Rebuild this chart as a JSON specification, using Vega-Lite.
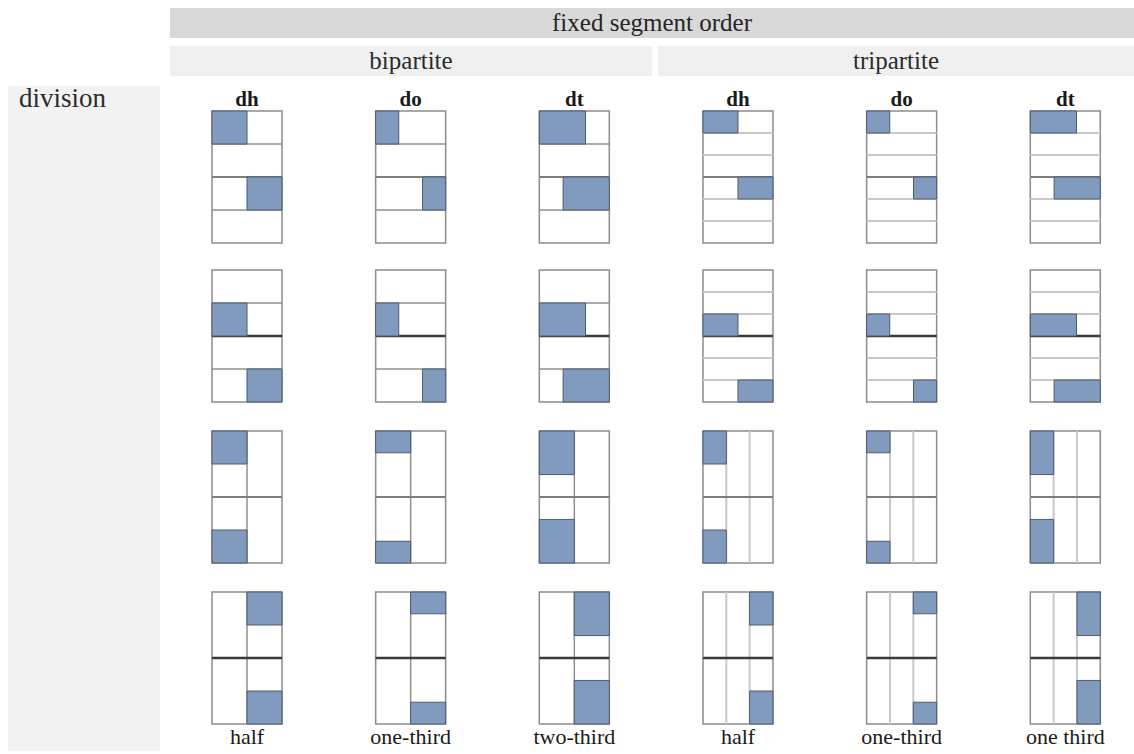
{
  "$schema": "https://vega.github.io/schema/vega-lite/v6.json",
  "padding": {"left": 8, "top": 8, "right": 0, "bottom": 0},
  "background": "white",
  "config": {
    "view": {"stroke": null},
    "font": "Liberation Serif",
    "text": {"font": "Liberation Serif"},
    "title": {"font": "Liberation Serif"},
    "header": {"labelFont": "Liberation Serif", "titleFont": "Liberation Serif"}
  },
  "datasets": {
    "geo": [
      {"c":1,"r":1,"t":"blue","x":0,"x2":0.5,"y":0,"y2":0.25},
      {"c":1,"r":1,"t":"blue","x":0.5,"x2":1,"y":0.5,"y2":0.75},
      {"c":2,"r":1,"t":"blue","x":0,"x2":0.33,"y":0,"y2":0.25},
      {"c":2,"r":1,"t":"blue","x":0.67,"x2":1,"y":0.5,"y2":0.75},
      {"c":3,"r":1,"t":"blue","x":0,"x2":0.66,"y":0,"y2":0.25},
      {"c":3,"r":1,"t":"blue","x":0.34,"x2":1,"y":0.5,"y2":0.75},
      {"c":4,"r":1,"t":"blue","x":0,"x2":0.5,"y":0,"y2":0.1667},
      {"c":4,"r":1,"t":"blue","x":0.5,"x2":1,"y":0.5,"y2":0.6667},
      {"c":5,"r":1,"t":"blue","x":0,"x2":0.33,"y":0,"y2":0.1667},
      {"c":5,"r":1,"t":"blue","x":0.67,"x2":1,"y":0.5,"y2":0.6667},
      {"c":6,"r":1,"t":"blue","x":0,"x2":0.66,"y":0,"y2":0.1667},
      {"c":6,"r":1,"t":"blue","x":0.34,"x2":1,"y":0.5,"y2":0.6667},
      {"c":1,"r":2,"t":"blue","x":0,"x2":0.5,"y":0.25,"y2":0.5},
      {"c":1,"r":2,"t":"blue","x":0.5,"x2":1,"y":0.75,"y2":1},
      {"c":2,"r":2,"t":"blue","x":0,"x2":0.33,"y":0.25,"y2":0.5},
      {"c":2,"r":2,"t":"blue","x":0.67,"x2":1,"y":0.75,"y2":1},
      {"c":3,"r":2,"t":"blue","x":0,"x2":0.66,"y":0.25,"y2":0.5},
      {"c":3,"r":2,"t":"blue","x":0.34,"x2":1,"y":0.75,"y2":1},
      {"c":4,"r":2,"t":"blue","x":0,"x2":0.5,"y":0.3333,"y2":0.5},
      {"c":4,"r":2,"t":"blue","x":0.5,"x2":1,"y":0.8333,"y2":1},
      {"c":5,"r":2,"t":"blue","x":0,"x2":0.33,"y":0.3333,"y2":0.5},
      {"c":5,"r":2,"t":"blue","x":0.67,"x2":1,"y":0.8333,"y2":1},
      {"c":6,"r":2,"t":"blue","x":0,"x2":0.66,"y":0.3333,"y2":0.5},
      {"c":6,"r":2,"t":"blue","x":0.34,"x2":1,"y":0.8333,"y2":1},
      {"c":1,"r":3,"t":"blue","x":0,"x2":0.5,"y":0,"y2":0.25},
      {"c":1,"r":3,"t":"blue","x":0,"x2":0.5,"y":0.75,"y2":1},
      {"c":2,"r":3,"t":"blue","x":0,"x2":0.5,"y":0,"y2":0.165},
      {"c":2,"r":3,"t":"blue","x":0,"x2":0.5,"y":0.835,"y2":1},
      {"c":3,"r":3,"t":"blue","x":0,"x2":0.5,"y":0,"y2":0.33},
      {"c":3,"r":3,"t":"blue","x":0,"x2":0.5,"y":0.67,"y2":1},
      {"c":4,"r":3,"t":"blue","x":0,"x2":0.3333,"y":0,"y2":0.25},
      {"c":4,"r":3,"t":"blue","x":0,"x2":0.3333,"y":0.75,"y2":1},
      {"c":5,"r":3,"t":"blue","x":0,"x2":0.3333,"y":0,"y2":0.165},
      {"c":5,"r":3,"t":"blue","x":0,"x2":0.3333,"y":0.835,"y2":1},
      {"c":6,"r":3,"t":"blue","x":0,"x2":0.3333,"y":0,"y2":0.33},
      {"c":6,"r":3,"t":"blue","x":0,"x2":0.3333,"y":0.67,"y2":1},
      {"c":1,"r":4,"t":"blue","x":0.5,"x2":1,"y":0,"y2":0.25},
      {"c":1,"r":4,"t":"blue","x":0.5,"x2":1,"y":0.75,"y2":1},
      {"c":2,"r":4,"t":"blue","x":0.5,"x2":1,"y":0,"y2":0.165},
      {"c":2,"r":4,"t":"blue","x":0.5,"x2":1,"y":0.835,"y2":1},
      {"c":3,"r":4,"t":"blue","x":0.5,"x2":1,"y":0,"y2":0.33},
      {"c":3,"r":4,"t":"blue","x":0.5,"x2":1,"y":0.67,"y2":1},
      {"c":4,"r":4,"t":"blue","x":0.6667,"x2":1,"y":0,"y2":0.25},
      {"c":4,"r":4,"t":"blue","x":0.6667,"x2":1,"y":0.75,"y2":1},
      {"c":5,"r":4,"t":"blue","x":0.6667,"x2":1,"y":0,"y2":0.165},
      {"c":5,"r":4,"t":"blue","x":0.6667,"x2":1,"y":0.835,"y2":1},
      {"c":6,"r":4,"t":"blue","x":0.6667,"x2":1,"y":0,"y2":0.33},
      {"c":6,"r":4,"t":"blue","x":0.6667,"x2":1,"y":0.67,"y2":1},

      {"c":1,"r":1,"t":"d2","x":0,"x2":1,"y":0.25,"y2":0.25},
      {"c":1,"r":1,"t":"d2","x":0,"x2":1,"y":0.75,"y2":0.75},
      {"c":1,"r":1,"t":"sL","x":0,"x2":1,"y":0.5,"y2":0.5},
      {"c":2,"r":1,"t":"d2","x":0,"x2":1,"y":0.25,"y2":0.25},
      {"c":2,"r":1,"t":"d2","x":0,"x2":1,"y":0.75,"y2":0.75},
      {"c":2,"r":1,"t":"sL","x":0,"x2":1,"y":0.5,"y2":0.5},
      {"c":3,"r":1,"t":"d2","x":0,"x2":1,"y":0.25,"y2":0.25},
      {"c":3,"r":1,"t":"d2","x":0,"x2":1,"y":0.75,"y2":0.75},
      {"c":3,"r":1,"t":"sL","x":0,"x2":1,"y":0.5,"y2":0.5},
      {"c":4,"r":1,"t":"d3","x":0,"x2":1,"y":0.1667,"y2":0.1667},
      {"c":4,"r":1,"t":"d3","x":0,"x2":1,"y":0.3333,"y2":0.3333},
      {"c":4,"r":1,"t":"d3","x":0,"x2":1,"y":0.6667,"y2":0.6667},
      {"c":4,"r":1,"t":"d3","x":0,"x2":1,"y":0.8333,"y2":0.8333},
      {"c":4,"r":1,"t":"sL","x":0,"x2":1,"y":0.5,"y2":0.5},
      {"c":5,"r":1,"t":"d3","x":0,"x2":1,"y":0.1667,"y2":0.1667},
      {"c":5,"r":1,"t":"d3","x":0,"x2":1,"y":0.3333,"y2":0.3333},
      {"c":5,"r":1,"t":"d3","x":0,"x2":1,"y":0.6667,"y2":0.6667},
      {"c":5,"r":1,"t":"d3","x":0,"x2":1,"y":0.8333,"y2":0.8333},
      {"c":5,"r":1,"t":"sL","x":0,"x2":1,"y":0.5,"y2":0.5},
      {"c":6,"r":1,"t":"d3","x":0,"x2":1,"y":0.1667,"y2":0.1667},
      {"c":6,"r":1,"t":"d3","x":0,"x2":1,"y":0.3333,"y2":0.3333},
      {"c":6,"r":1,"t":"d3","x":0,"x2":1,"y":0.6667,"y2":0.6667},
      {"c":6,"r":1,"t":"d3","x":0,"x2":1,"y":0.8333,"y2":0.8333},
      {"c":6,"r":1,"t":"sL","x":0,"x2":1,"y":0.5,"y2":0.5},

      {"c":1,"r":2,"t":"d2","x":0,"x2":1,"y":0.25,"y2":0.25},
      {"c":1,"r":2,"t":"d2","x":0,"x2":1,"y":0.75,"y2":0.75},
      {"c":1,"r":2,"t":"sD","x":0,"x2":1,"y":0.5,"y2":0.5},
      {"c":2,"r":2,"t":"d2","x":0,"x2":1,"y":0.25,"y2":0.25},
      {"c":2,"r":2,"t":"d2","x":0,"x2":1,"y":0.75,"y2":0.75},
      {"c":2,"r":2,"t":"sD","x":0,"x2":1,"y":0.5,"y2":0.5},
      {"c":3,"r":2,"t":"d2","x":0,"x2":1,"y":0.25,"y2":0.25},
      {"c":3,"r":2,"t":"d2","x":0,"x2":1,"y":0.75,"y2":0.75},
      {"c":3,"r":2,"t":"sD","x":0,"x2":1,"y":0.5,"y2":0.5},
      {"c":4,"r":2,"t":"d3","x":0,"x2":1,"y":0.1667,"y2":0.1667},
      {"c":4,"r":2,"t":"d3","x":0,"x2":1,"y":0.3333,"y2":0.3333},
      {"c":4,"r":2,"t":"d3","x":0,"x2":1,"y":0.6667,"y2":0.6667},
      {"c":4,"r":2,"t":"d3","x":0,"x2":1,"y":0.8333,"y2":0.8333},
      {"c":4,"r":2,"t":"sD","x":0,"x2":1,"y":0.5,"y2":0.5},
      {"c":5,"r":2,"t":"d3","x":0,"x2":1,"y":0.1667,"y2":0.1667},
      {"c":5,"r":2,"t":"d3","x":0,"x2":1,"y":0.3333,"y2":0.3333},
      {"c":5,"r":2,"t":"d3","x":0,"x2":1,"y":0.6667,"y2":0.6667},
      {"c":5,"r":2,"t":"d3","x":0,"x2":1,"y":0.8333,"y2":0.8333},
      {"c":5,"r":2,"t":"sD","x":0,"x2":1,"y":0.5,"y2":0.5},
      {"c":6,"r":2,"t":"d3","x":0,"x2":1,"y":0.1667,"y2":0.1667},
      {"c":6,"r":2,"t":"d3","x":0,"x2":1,"y":0.3333,"y2":0.3333},
      {"c":6,"r":2,"t":"d3","x":0,"x2":1,"y":0.6667,"y2":0.6667},
      {"c":6,"r":2,"t":"d3","x":0,"x2":1,"y":0.8333,"y2":0.8333},
      {"c":6,"r":2,"t":"sD","x":0,"x2":1,"y":0.5,"y2":0.5},

      {"c":1,"r":3,"t":"d2","x":0.5,"x2":0.5,"y":0,"y2":1},
      {"c":1,"r":3,"t":"sL","x":0,"x2":1,"y":0.5,"y2":0.5},
      {"c":2,"r":3,"t":"d2","x":0.5,"x2":0.5,"y":0,"y2":1},
      {"c":2,"r":3,"t":"sL","x":0,"x2":1,"y":0.5,"y2":0.5},
      {"c":3,"r":3,"t":"d2","x":0.5,"x2":0.5,"y":0,"y2":1},
      {"c":3,"r":3,"t":"sL","x":0,"x2":1,"y":0.5,"y2":0.5},
      {"c":4,"r":3,"t":"d3","x":0.3333,"x2":0.3333,"y":0,"y2":1},
      {"c":4,"r":3,"t":"d3","x":0.6667,"x2":0.6667,"y":0,"y2":1},
      {"c":4,"r":3,"t":"sL","x":0,"x2":1,"y":0.5,"y2":0.5},
      {"c":5,"r":3,"t":"d3","x":0.3333,"x2":0.3333,"y":0,"y2":1},
      {"c":5,"r":3,"t":"d3","x":0.6667,"x2":0.6667,"y":0,"y2":1},
      {"c":5,"r":3,"t":"sL","x":0,"x2":1,"y":0.5,"y2":0.5},
      {"c":6,"r":3,"t":"d3","x":0.3333,"x2":0.3333,"y":0,"y2":1},
      {"c":6,"r":3,"t":"d3","x":0.6667,"x2":0.6667,"y":0,"y2":1},
      {"c":6,"r":3,"t":"sL","x":0,"x2":1,"y":0.5,"y2":0.5},

      {"c":1,"r":4,"t":"d2","x":0.5,"x2":0.5,"y":0,"y2":1},
      {"c":1,"r":4,"t":"sD","x":0,"x2":1,"y":0.5,"y2":0.5},
      {"c":2,"r":4,"t":"d2","x":0.5,"x2":0.5,"y":0,"y2":1},
      {"c":2,"r":4,"t":"sD","x":0,"x2":1,"y":0.5,"y2":0.5},
      {"c":3,"r":4,"t":"d2","x":0.5,"x2":0.5,"y":0,"y2":1},
      {"c":3,"r":4,"t":"sD","x":0,"x2":1,"y":0.5,"y2":0.5},
      {"c":4,"r":4,"t":"d3","x":0.3333,"x2":0.3333,"y":0,"y2":1},
      {"c":4,"r":4,"t":"d3","x":0.6667,"x2":0.6667,"y":0,"y2":1},
      {"c":4,"r":4,"t":"sD","x":0,"x2":1,"y":0.5,"y2":0.5},
      {"c":5,"r":4,"t":"d3","x":0.3333,"x2":0.3333,"y":0,"y2":1},
      {"c":5,"r":4,"t":"d3","x":0.6667,"x2":0.6667,"y":0,"y2":1},
      {"c":5,"r":4,"t":"sD","x":0,"x2":1,"y":0.5,"y2":0.5},
      {"c":6,"r":4,"t":"d3","x":0.3333,"x2":0.3333,"y":0,"y2":1},
      {"c":6,"r":4,"t":"d3","x":0.6667,"x2":0.6667,"y":0,"y2":1},
      {"c":6,"r":4,"t":"sD","x":0,"x2":1,"y":0.5,"y2":0.5}
    ]
  },
  "spacing": 10,
  "hconcat": [
    {
      "spacing": 0,
      "vconcat": [
        {
          "width": 152, "height": 77,
          "data": {"values": [{}]},
          "mark": {"type": "text"},
          "encoding": {"text": {"value": ""}}
        },
        {
          "width": 152, "height": 665,
          "view": {"fill": "#f2f2f2", "stroke": null},
          "title": {"text": "division", "anchor": "start", "frame": "group", "orient": "top", "offset": -27, "dx": 11, "fontSize": 27, "fontWeight": "normal", "color": "#2b2b2b", "font": "Liberation Serif"},
          "data": {"values": [{}]},
          "mark": {"type": "text"},
          "encoding": {"text": {"value": ""}}
        }
      ]
    },
    {
      "spacing": 13,
      "vconcat": [
        {
          "spacing": 8,
          "vconcat": [
            {
              "width": 964, "height": 30,
              "view": {"fill": "#d9d9d9", "stroke": null},
              "data": {"values": [{"label": "fixed segment order"}]},
              "mark": {"type": "text", "fontSize": 25, "color": "#262626", "font": "Liberation Serif"},
              "encoding": {"text": {"field": "label"}}
            },
            {
              "spacing": 6,
              "hconcat": [
                {
                  "width": 482, "height": 30,
                  "view": {"fill": "#f0f0f0", "stroke": null},
                  "data": {"values": [{"label": "bipartite"}]},
                  "mark": {"type": "text", "fontSize": 25, "color": "#2b2b2b", "font": "Liberation Serif"},
                  "encoding": {"text": {"field": "label"}}
                },
                {
                  "width": 476, "height": 30,
                  "view": {"fill": "#f0f0f0", "stroke": null},
                  "data": {"values": [{"label": "tripartite"}]},
                  "mark": {"type": "text", "fontSize": 25, "color": "#2b2b2b", "font": "Liberation Serif"},
                  "encoding": {"text": {"field": "label"}}
                }
              ]
            }
          ]
        },
        {
          "spacing": 10,
          "hconcat": [
            {
              "width": 30, "height": 10,
              "data": {"values": [{}]},
              "mark": {"type": "text"},
              "encoding": {"text": {"value": ""}}
            },
            {
              "spacing": 25,
              "vconcat": [
                {
                  "data": {"name": "geo"},
                  "transform": [{"filter": "datum.r == 1"}],
                  "bounds": "flush",
                  "facet": {"column": {"field": "c", "type": "ordinal", "title": null, "header": {"labelExpr": "['dh','do','dt','dh','do','dt'][datum.value - 1]", "labelFontSize": 21, "labelFontWeight": "bold", "labelColor": "#1a1a1a", "labelPadding": 1}}},
                  "spacing": {"column": 93.66},
                  "spec": {
                    "width": 70, "height": 132,
                    "view": {"stroke": "#8c8c8c", "strokeWidth": 1.5},
                    "encoding": {
                      "x": {"field": "x", "type": "quantitative", "scale": {"domain": [0, 1], "nice": false, "zero": false}, "axis": null},
                      "x2": {"field": "x2"},
                      "y": {"field": "y", "type": "quantitative", "scale": {"domain": [0, 1], "reverse": true, "nice": false, "zero": false}, "axis": null},
                      "y2": {"field": "y2"}
                    },
                    "layer": [
                      {"transform": [{"filter": "datum.t == 'd2'"}], "mark": {"type": "rule", "color": "#8f8f8f", "strokeWidth": 1.5}, "encoding": {}},
                      {"transform": [{"filter": "datum.t == 'd3'"}], "mark": {"type": "rule", "color": "#c8c8c8", "strokeWidth": 2}, "encoding": {}},
                      {"transform": [{"filter": "datum.t == 'sL'"}], "mark": {"type": "rule", "color": "#7d7d7d", "strokeWidth": 2}, "encoding": {}},
                      {"transform": [{"filter": "datum.t == 'sD'"}], "mark": {"type": "rule", "color": "#3a3a3a", "strokeWidth": 2.5}, "encoding": {}},
                      {"transform": [{"filter": "datum.t == 'blue'"}], "mark": {"type": "rect", "fill": "#819bbf", "stroke": "#4f5b6b", "strokeWidth": 1}, "encoding": {}}
                    ]
                  }
                },
                {
                  "data": {"name": "geo"},
                  "transform": [{"filter": "datum.r == 2"}],
                  "bounds": "flush",
                  "facet": {"column": {"field": "c", "type": "ordinal", "title": null, "header": null}},
                  "spacing": {"column": 93.66},
                  "spec": {
                    "width": 70, "height": 132,
                    "view": {"stroke": "#8c8c8c", "strokeWidth": 1.5},
                    "encoding": {
                      "x": {"field": "x", "type": "quantitative", "scale": {"domain": [0, 1], "nice": false, "zero": false}, "axis": null},
                      "x2": {"field": "x2"},
                      "y": {"field": "y", "type": "quantitative", "scale": {"domain": [0, 1], "reverse": true, "nice": false, "zero": false}, "axis": null},
                      "y2": {"field": "y2"}
                    },
                    "layer": [
                      {"transform": [{"filter": "datum.t == 'd2'"}], "mark": {"type": "rule", "color": "#8f8f8f", "strokeWidth": 1.5}, "encoding": {}},
                      {"transform": [{"filter": "datum.t == 'd3'"}], "mark": {"type": "rule", "color": "#c8c8c8", "strokeWidth": 2}, "encoding": {}},
                      {"transform": [{"filter": "datum.t == 'sL'"}], "mark": {"type": "rule", "color": "#7d7d7d", "strokeWidth": 2}, "encoding": {}},
                      {"transform": [{"filter": "datum.t == 'sD'"}], "mark": {"type": "rule", "color": "#3a3a3a", "strokeWidth": 2.5}, "encoding": {}},
                      {"transform": [{"filter": "datum.t == 'blue'"}], "mark": {"type": "rect", "fill": "#819bbf", "stroke": "#4f5b6b", "strokeWidth": 1}, "encoding": {}}
                    ]
                  }
                },
                {
                  "data": {"name": "geo"},
                  "transform": [{"filter": "datum.r == 3"}],
                  "bounds": "flush",
                  "facet": {"column": {"field": "c", "type": "ordinal", "title": null, "header": null}},
                  "spacing": {"column": 93.66},
                  "spec": {
                    "width": 70, "height": 132,
                    "view": {"stroke": "#8c8c8c", "strokeWidth": 1.5},
                    "encoding": {
                      "x": {"field": "x", "type": "quantitative", "scale": {"domain": [0, 1], "nice": false, "zero": false}, "axis": null},
                      "x2": {"field": "x2"},
                      "y": {"field": "y", "type": "quantitative", "scale": {"domain": [0, 1], "reverse": true, "nice": false, "zero": false}, "axis": null},
                      "y2": {"field": "y2"}
                    },
                    "layer": [
                      {"transform": [{"filter": "datum.t == 'd2'"}], "mark": {"type": "rule", "color": "#8f8f8f", "strokeWidth": 1.5}, "encoding": {}},
                      {"transform": [{"filter": "datum.t == 'd3'"}], "mark": {"type": "rule", "color": "#c8c8c8", "strokeWidth": 2}, "encoding": {}},
                      {"transform": [{"filter": "datum.t == 'sL'"}], "mark": {"type": "rule", "color": "#7d7d7d", "strokeWidth": 2}, "encoding": {}},
                      {"transform": [{"filter": "datum.t == 'sD'"}], "mark": {"type": "rule", "color": "#3a3a3a", "strokeWidth": 2.5}, "encoding": {}},
                      {"transform": [{"filter": "datum.t == 'blue'"}], "mark": {"type": "rect", "fill": "#819bbf", "stroke": "#4f5b6b", "strokeWidth": 1}, "encoding": {}}
                    ]
                  }
                },
                {
                  "data": {"name": "geo"},
                  "transform": [{"filter": "datum.r == 4"}],
                  "bounds": "flush",
                  "facet": {"column": {"field": "c", "type": "ordinal", "title": null, "header": {"labelOrient": "bottom", "labelExpr": "['half','one-third','two-third','half','one-third','one third'][datum.value - 1]", "labelFontSize": 22, "labelFontWeight": "normal", "labelColor": "#1a1a1a", "labelPadding": 3}}},
                  "spacing": {"column": 93.66},
                  "spec": {
                    "width": 70, "height": 132,
                    "view": {"stroke": "#8c8c8c", "strokeWidth": 1.5},
                    "encoding": {
                      "x": {"field": "x", "type": "quantitative", "scale": {"domain": [0, 1], "nice": false, "zero": false}, "axis": null},
                      "x2": {"field": "x2"},
                      "y": {"field": "y", "type": "quantitative", "scale": {"domain": [0, 1], "reverse": true, "nice": false, "zero": false}, "axis": null},
                      "y2": {"field": "y2"}
                    },
                    "layer": [
                      {"transform": [{"filter": "datum.t == 'd2'"}], "mark": {"type": "rule", "color": "#8f8f8f", "strokeWidth": 1.5}, "encoding": {}},
                      {"transform": [{"filter": "datum.t == 'd3'"}], "mark": {"type": "rule", "color": "#c8c8c8", "strokeWidth": 2}, "encoding": {}},
                      {"transform": [{"filter": "datum.t == 'sL'"}], "mark": {"type": "rule", "color": "#7d7d7d", "strokeWidth": 2}, "encoding": {}},
                      {"transform": [{"filter": "datum.t == 'sD'"}], "mark": {"type": "rule", "color": "#3a3a3a", "strokeWidth": 2.5}, "encoding": {}},
                      {"transform": [{"filter": "datum.t == 'blue'"}], "mark": {"type": "rect", "fill": "#819bbf", "stroke": "#4f5b6b", "strokeWidth": 1}, "encoding": {}}
                    ]
                  }
                }
              ]
            }
          ]
        }
      ]
    }
  ]
}
